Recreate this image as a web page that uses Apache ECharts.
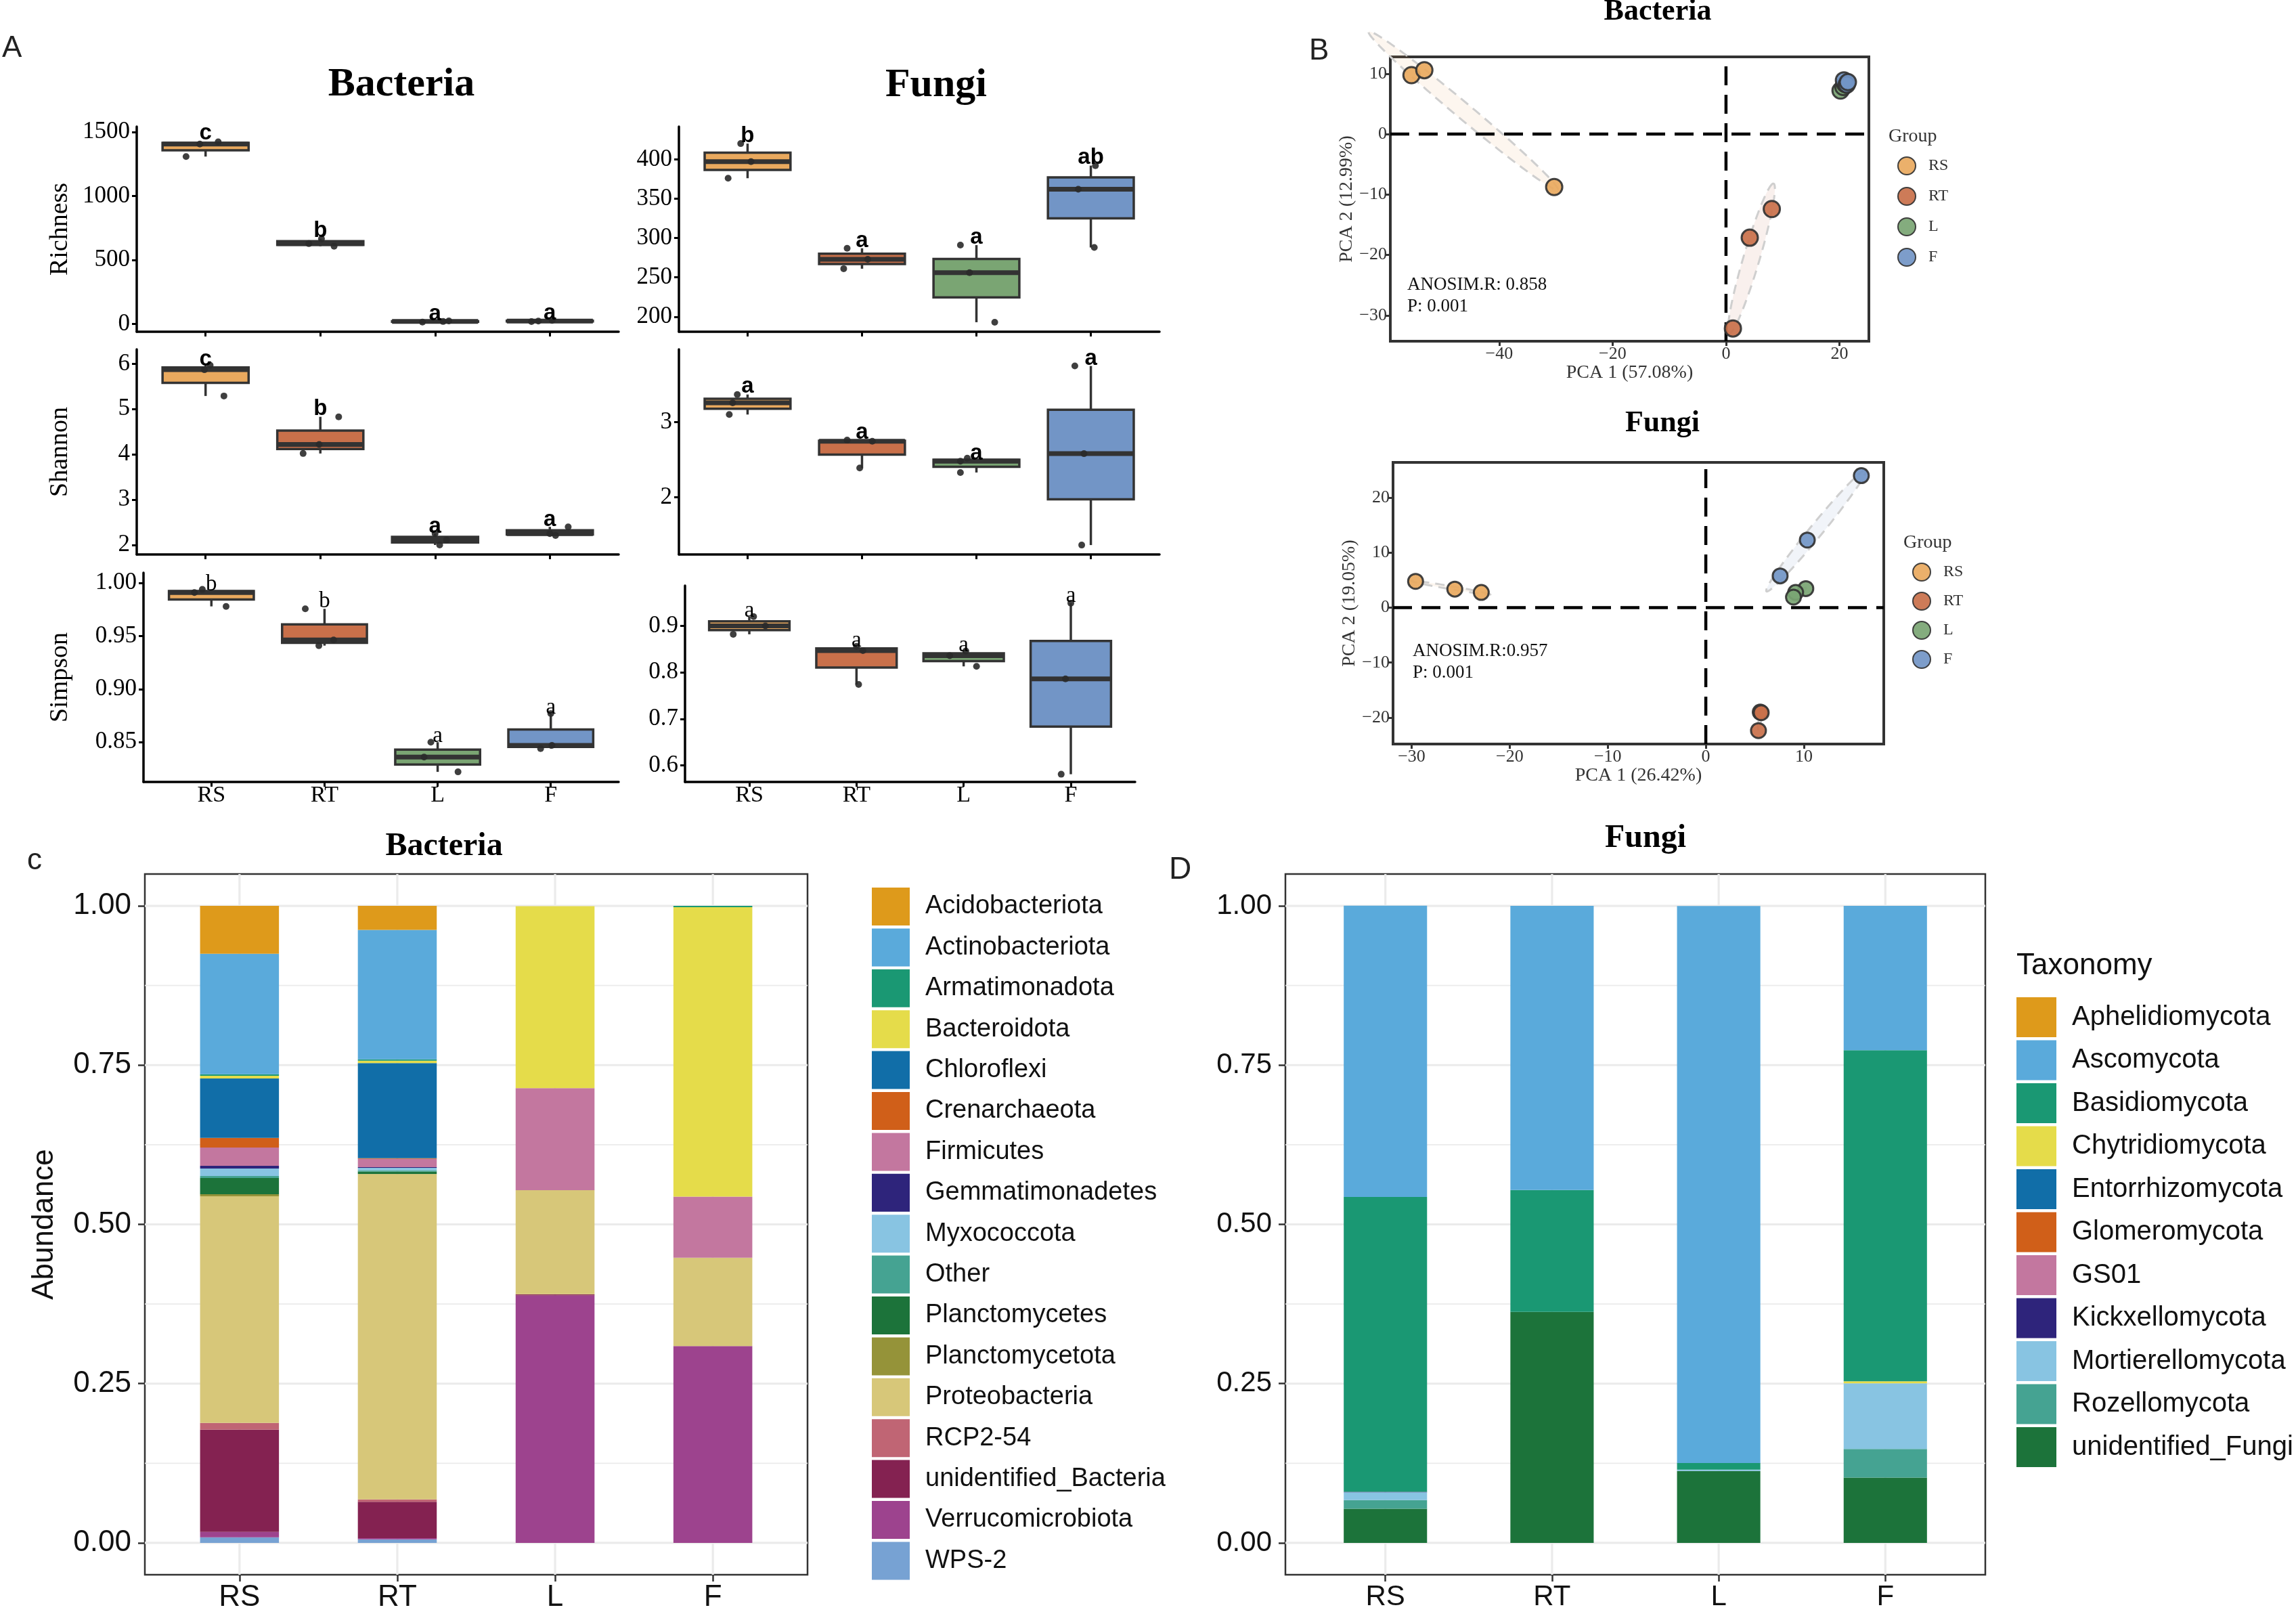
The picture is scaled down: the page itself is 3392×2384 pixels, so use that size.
<!DOCTYPE html>
<html><head><meta charset="utf-8">
<script src="https://cdn.jsdelivr.net/npm/echarts@6/dist/echarts.min.js"></script>
<style>html,body{margin:0;padding:0;background:#fff}#c{width:3392px;height:2384px}</style>
</head><body><div id="c"></div>
<script>
const SERIF = '"Liberation Serif","Times New Roman",serif';
const SANS = '"Liberation Sans",Arial,sans-serif';

const groups = ['RS','RT','L','F'];
const groupColors = ['#E9A95E','#C9704A','#7AA573','#7295C6'];

// ---- Panel A: alpha diversity (3 replicates per group) ----
const bacRichness = [[1307,1405,1422],[607,627,664],[14,19,24],[18,22,28]];
const bacShannon  = [[5.29,5.87,5.97],[4.02,4.22,4.83],[2.00,2.11,2.25],[2.21,2.25,2.40]];
const bacSimpson  = [[0.978,0.991,0.994],[0.941,0.9464,0.9757],[0.822,0.836,0.850],[0.844,0.847,0.877]];
const funRichness = [[376,397,420],[261,273,287],[193,256,291],[288,362,392]];
const funShannon  = [[3.10,3.255,3.366],[2.39,2.745,2.76],[2.33,2.48,2.52],[1.366,2.58,3.745]];
const funSimpson  = [[0.882,0.900,0.920],[0.774,0.847,0.856],[0.813,0.836,0.846],[0.581,0.786,0.949]];

// horizontal jitter of the plotted replicate points (category units)
const bacRichnessJitter = [[-0.17,-0.05,0.11],[0.12,-0.10,0.01],[-0.11,0.07,0.12],[-0.16,-0.10,0.02]];
const bacShannonJitter  = [[0.16,-0.01,0.04],[-0.15,-0.01,0.16],[0.04,0.10,0.0],[0.05,0.0,0.16]];
const bacSimpsonJitter  = [[0.13,-0.15,-0.08],[-0.05,0.08,-0.17],[0.18,-0.12,-0.06],[-0.09,0.01,0.0]];
const funRichnessJitter = [[-0.17,0.03,-0.06],[-0.16,0.05,-0.13],[0.16,-0.06,-0.14],[0.03,-0.11,0.04]];
const funShannonJitter  = [[-0.16,-0.13,-0.09],[-0.02,0.09,-0.13],[-0.14,-0.14,-0.08],[-0.08,-0.06,-0.14]];
const funSimpsonJitter  = [[-0.15,0.15,0.04],[0.02,0.06,0.0],[0.12,-0.13,0.02],[-0.09,-0.05,0.0]];

// significance letters and the value at which they sit
const bacRichnessLetters = ['c','b','a','a'];   const bacRichnessLetterY = [1488,729,78,82];
const bacShannonLetters  = ['c','b','a','a'];   const bacShannonLetterY  = [6.09,5.0,2.40,2.56];
const bacSimpsonLetters  = ['b','b','a','a'];   const bacSimpsonLetterY  = [0.9985,0.983,0.856,0.8826];
const funRichnessLetters = ['b','a','a','ab'];  const funRichnessLetterY = [430,296,301,402];
const funShannonLetters  = ['a','a','a','a'];   const funShannonLetterY  = [3.47,2.86,2.586,3.84];
const funSimpsonLetters  = ['a','a','a','a'];   const funSimpsonLetterY  = [0.933,0.868,0.858,0.964];

const bacRichnessTicks = [0,500,1000,1500];
const bacShannonTicks  = [2,3,4,5,6];
const bacSimpsonTicks  = [0.85,0.90,0.95,1.00];
const funRichnessTicks = [200,250,300,350,400];
const funShannonTicks  = [2,3];
const funSimpsonTicks  = [0.6,0.7,0.8,0.9];

// ---- Panel B: PCA scores ----
const bacPcaRS = [[-55.47,9.75],[-53.2,10.58],[-30.3,-8.76]];
const bacPcaRT = [[8.08,-12.4],[4.19,-17.14],[1.22,-32.16]];
const bacPcaL  = [[20.2,7.2],[20.7,7.8],[21.0,8.3]];
const bacPcaF  = [[20.8,8.9],[21.3,8.2],[21.5,8.6]];
const funPcaRS = [[-29.6,4.76],[-25.6,3.35],[-22.9,2.74]];
const funPcaRT = [[5.55,-19.0],[5.65,-19.1],[5.37,-22.36]];
const funPcaL  = [[10.2,3.44],[9.16,2.74],[8.94,1.89]];
const funPcaF  = [[15.86,23.96],[10.35,12.26],[7.58,5.75]];
const bacPcaXTicks = [-40,-20,0,20];
const bacPcaYTicks = [-30,-20,-10,0,10];
const funPcaXTicks = [-30,-20,-10,0,10];
const funPcaYTicks = [-20,-10,0,10,20];

// ---- Panel C/D: relative abundance ----
const bacTaxa = ['Acidobacteriota','Actinobacteriota','Armatimonadota','Bacteroidota','Chloroflexi','Crenarchaeota','Firmicutes','Gemmatimonadetes','Myxococcota','Other','Planctomycetes','Planctomycetota','Proteobacteria','RCP2-54','unidentified_Bacteria','Verrucomicrobiota','WPS-2'];
const bacRS = [0.0753,0.1891,0.0025,0.0042,0.0931,0.0153,0.0287,0.0042,0.0117,0.0032,0.0255,0.0032,0.3558,0.0106,0.1604,0.0085,0.0088];
const bacRT = [0.0376,0.2034,0.0022,0.0035,0.1494,0.001,0.0131,0.001,0.004,0.002,0.0035,0.0005,0.5105,0.0039,0.057,0.0018,0.0056];
const bacL  = [0,0,0,0.2858,0,0,0.1602,0,0,0,0,0,0.1633,0,0.002,0.3883,0];
const bacF  = [0,0,0.002,0.4544,0,0,0.096,0,0,0,0,0,0.1386,0,0,0.309,0];
const funTaxa = ['Aphelidiomycota','Ascomycota','Basidiomycota','Chytridiomycota','Entorrhizomycota','Glomeromycota','GS01','Kickxellomycota','Mortierellomycota','Rozellomycota','unidentified_Fungi'];
const funRS = [0,0.4572,0.4627,0,0,0,0,0.001,0.012,0.0137,0.0536];
const funRT = [0,0.446,0.1913,0,0,0,0,0,0,0,0.3627];
const funL  = [0,0.8743,0.0104,0,0,0,0,0,0.002,0,0.113];
const funF  = [0,0.2266,0.5196,0.0032,0,0,0,0,0.1033,0.0448,0.1025];
const abundTicks = [0,0.25,0.5,0.75,1];
const abundMinor = [0.125,0.375,0.625,0.875];

const taxaPalette = ['#DE9A1B','#5AAADB','#1A9873','#E5DC4A','#116EA8','#D05F19','#C3779F','#2E247B','#88C4E2','#45A392','#1C733A','#959339','#D7C779','#C06574','#842251','#9D438E','#77A2D3'];

// ---------- helpers ----------
function q7(s, p){ const h=(s.length-1)*p, lo=Math.floor(h), hi=Math.ceil(h); return s[lo]+(h-lo)*(s[hi]-s[lo]); }
function boxStats(vals){
  const s = vals.slice().sort((a,b)=>a-b);
  const q1=q7(s,0.25), q2=q7(s,0.5), q3=q7(s,0.75), iqr=q3-q1;
  const lo = Math.min(...s.filter(v=>v>=q1-1.5*iqr));
  const hi = Math.max(...s.filter(v=>v<=q3+1.5*iqr));
  return [lo,q1,q2,q3,hi];
}
function ellipse(pts, k, n){
  const m=pts.length;
  const mx=pts.reduce((a,p)=>a+p[0],0)/m, my=pts.reduce((a,p)=>a+p[1],0)/m;
  let sxx=0,syy=0,sxy=0;
  pts.forEach(p=>{sxx+=(p[0]-mx)**2; syy+=(p[1]-my)**2; sxy+=(p[0]-mx)*(p[1]-my);});
  sxx/=(m-1); syy/=(m-1); sxy/=(m-1);
  const T=sxx+syy, D=sxx*syy-sxy*sxy, disc=Math.sqrt(Math.max(T*T/4-D,0));
  const l1=T/2+disc, l2=Math.max(T/2-disc, l1*0.004);
  const th=0.5*Math.atan2(2*sxy, sxx-syy);
  const a=k*Math.sqrt(l1), b=k*Math.sqrt(l2), out=[];
  for(let i=0;i<n;i++){ const t=2*Math.PI*i/n;
    out.push([mx+a*Math.cos(t)*Math.cos(th)-b*Math.sin(t)*Math.sin(th), my+a*Math.cos(t)*Math.sin(th)+b*Math.sin(t)*Math.cos(th)]); }
  return out;
}
function hexA(hex, a){ const n=parseInt(hex.slice(1),16); return 'rgba('+(n>>16)+','+((n>>8)&255)+','+(n&255)+','+a+')'; }

const option = {animation:false, backgroundColor:'#fff', grid:[], xAxis:[], yAxis:[], series:[], legend:[], graphic:[]};

// ---------- Panel A ----------
const boxPanels = [
  {vals:bacRichness, jit:bacRichnessJitter, let:bacRichnessLetters, ly:bacRichnessLetterY, ticks:bacRichnessTicks, dec:0, name:'Richness', gap:94, pos:{left:202,top:187,width:712,height:303}, ext:[-61,1541], showX:false, lf:SANS, lw:'bold'},
  {vals:bacShannon, jit:bacShannonJitter, let:bacShannonLetters, ly:bacShannonLetterY, ticks:bacShannonTicks, dec:0, name:'Shannon', gap:94, pos:{left:202,top:516,width:712,height:303}, ext:[1.79,6.32], showX:false, lf:SANS, lw:'bold'},
  {vals:bacSimpson, jit:bacSimpsonJitter, let:bacSimpsonLetters, ly:bacSimpsonLetterY, ticks:bacSimpsonTicks, dec:2, name:'Simpson', gap:104, pos:{left:212,top:846,width:702,height:309}, ext:[0.8125,1.0097], showX:true, lf:SERIF, lw:'normal'},
  {vals:funRichness, jit:funRichnessJitter, let:funRichnessLetters, ly:funRichnessLetterY, ticks:funRichnessTicks, dec:0, name:'', gap:90, pos:{left:1003,top:187,width:710,height:303}, ext:[180.9,441.6], showX:false, lf:SANS, lw:'bold'},
  {vals:funShannon, jit:funShannonJitter, let:funShannonLetters, ly:funShannonLetterY, ticks:funShannonTicks, dec:0, name:'', gap:90, pos:{left:1003,top:516,width:710,height:303}, ext:[1.241,3.966], showX:false, lf:SANS, lw:'bold'},
  {vals:funSimpson, jit:funSimpsonJitter, let:funSimpsonLetters, ly:funSimpsonLetterY, ticks:funSimpsonTicks, dec:1, name:'', gap:90, pos:{left:1012,top:865,width:665,height:290}, ext:[0.5644,0.9867], showX:true, lf:SERIF, lw:'normal'}
];
const catVals = [1,2,3,4];
boxPanels.forEach((p, gi) => {
  option.grid.push(Object.assign({outerBoundsMode:'none', containLabel:false, show:false}, p.pos));
  option.xAxis.push({gridIndex:gi, type:'value', min:0.4, max:4.6,
    axisLine:{show:true,onZero:false,lineStyle:{color:'#000',width:3.5}},
    axisTick:{show:true,customValues:catVals,length:7,lineStyle:{color:'#000',width:3}},
    axisLabel:{show:p.showX,customValues:catVals,formatter:v=>groups[Math.round(v)-1],fontFamily:SERIF,fontSize:34,color:'#000',margin:3},
    splitLine:{show:false}});
  option.yAxis.push({gridIndex:gi, type:'value', min:p.ext[0], max:p.ext[1],
    name:p.name, nameLocation:'middle', nameGap:p.gap, nameRotate:90,
    nameTextStyle:{fontFamily:SERIF,fontSize:38,color:'#000'},
    axisLine:{show:true,onZero:false,lineStyle:{color:'#000',width:3.5}},
    axisTick:{show:true,customValues:p.ticks,length:7,lineStyle:{color:'#000',width:3}},
    axisLabel:{customValues:p.ticks,formatter:v=>Number(v).toFixed(p.dec),fontFamily:SERIF,fontSize:35,color:'#000',margin:10},
    splitLine:{show:false}});
  option.series.push({type:'custom', xAxisIndex:gi, yAxisIndex:gi, silent:true, z:2,
    data:p.vals.map((v,i)=>[i+1].concat(boxStats(v))), encode:{x:0,y:[1,2,3,4,5]},
    renderItem:(params, api)=>{
      const x=api.value(0), i=params.dataIndex;
      const pl=api.coord([x,api.value(1)]), p1=api.coord([x,api.value(2)]), pm=api.coord([x,api.value(3)]), p3=api.coord([x,api.value(4)]), ph=api.coord([x,api.value(5)]);
      const hw=api.size([0.75,0])[0]/2;
      const ls={stroke:'#333',lineWidth:3.5};
      return {type:'group', children:[
        {type:'line', shape:{x1:p3[0],y1:p3[1],x2:ph[0],y2:ph[1]}, style:ls},
        {type:'line', shape:{x1:p1[0],y1:p1[1],x2:pl[0],y2:pl[1]}, style:ls},
        {type:'rect', shape:{x:pm[0]-hw,y:p3[1],width:2*hw,height:p1[1]-p3[1]}, style:{fill:groupColors[i],stroke:'#333',lineWidth:3.5}},
        {type:'line', shape:{x1:pm[0]-hw,y1:pm[1],x2:pm[0]+hw,y2:pm[1]}, style:{stroke:'#333',lineWidth:7}}
      ]};
    }});
  const pts=[];
  p.vals.forEach((arr,i)=>arr.forEach((v,j)=>pts.push([i+1+p.jit[i][j], v])));
  option.series.push({type:'scatter', xAxisIndex:gi, yAxisIndex:gi, silent:true, z:3, data:pts, symbolSize:10, itemStyle:{color:'#2a2a2a',opacity:0.9}});
  option.series.push({type:'custom', xAxisIndex:gi, yAxisIndex:gi, silent:true, z:4,
    data:p.let.map((l,i)=>[i+1,p.ly[i]]),
    renderItem:(params, api)=>{
      const c=api.coord([api.value(0),api.value(1)]);
      return {type:'text', x:c[0], y:c[1], style:{text:p.let[params.dataIndex], fontFamily:p.lf, fontWeight:p.lw, fontSize:33, fill:'#000', align:'center', verticalAlign:'middle'}};
    }});
});

// ---------- Panel B ----------
const pcaPanels = [
  {groupsPts:[bacPcaRS,bacPcaRT,bacPcaL,bacPcaF], pos:{left:2054,top:84,width:707,height:420}, xe:[-59.2,25.2], ye:[-34.27,12.78], xt:bacPcaXTicks, yt:bacPcaYTicks, xn:'PCA 1 (57.08%)', yn:'PCA 2 (12.99%)', sym:24},
  {groupsPts:[funPcaRS,funPcaRT,funPcaL,funPcaF], pos:{left:2058,top:683,width:725,height:416}, xe:[-31.9,18.15], ye:[-24.8,26.37], xt:funPcaXTicks, yt:funPcaYTicks, xn:'PCA 1 (26.42%)', yn:'PCA 2 (19.05%)', sym:22}
];
const minus = v => String(v).replace('-', '\u2212');
pcaPanels.forEach((p, k) => {
  const gi = 6 + k;
  option.grid.push(Object.assign({outerBoundsMode:'none', containLabel:false, show:true, borderColor:'#333', borderWidth:4, backgroundColor:'transparent'}, p.pos));
  option.xAxis.push({gridIndex:gi, type:'value', min:p.xe[0], max:p.xe[1], name:p.xn, nameLocation:'middle', nameGap:30,
    nameTextStyle:{fontFamily:SERIF,fontSize:28,color:'#333'},
    axisLine:{show:false,onZero:false}, axisTick:{show:true,customValues:p.xt,length:7,lineStyle:{color:'#333',width:3}},
    axisLabel:{customValues:p.xt,formatter:minus,fontFamily:SERIF,fontSize:26,color:'#333',margin:6}, splitLine:{show:false}});
  option.yAxis.push({gridIndex:gi, type:'value', min:p.ye[0], max:p.ye[1], name:p.yn, nameLocation:'middle', nameGap:50, nameRotate:90,
    nameTextStyle:{fontFamily:SERIF,fontSize:28,color:'#333'},
    axisLine:{show:false,onZero:false}, axisTick:{show:true,customValues:p.yt,length:7,lineStyle:{color:'#333',width:3}},
    axisLabel:{customValues:p.yt,formatter:minus,fontFamily:SERIF,fontSize:26,color:'#333',margin:5}, splitLine:{show:false}});
  option.series.push({type:'custom', xAxisIndex:gi, yAxisIndex:gi, silent:true, z:1, clip:false,
    data:[[0],[1],[2],[3]],
    renderItem:(params, api)=>{
      const i=params.dataIndex;
      const poly=ellipse(p.groupsPts[i],1.2,72).map(q=>api.coord(q));
      return {type:'polygon', shape:{points:poly}, style:{fill:hexA(groupColors[i],0.1), stroke:'#cfcfcf', lineWidth:3, lineDash:[14,9]}};
    }});
  option.series.push({type:'custom', xAxisIndex:gi, yAxisIndex:gi, silent:true, z:1.5,
    data:[[0,0]],
    renderItem:(params, api)=>{
      const a=api.coord([p.xe[0],0]), b=api.coord([p.xe[1],0]), c=api.coord([0,p.ye[0]]), d=api.coord([0,p.ye[1]]);
      const st={stroke:'#000',lineWidth:4.5,lineDash:[28,14]};
      return {type:'group', children:[
        {type:'line', shape:{x1:a[0],y1:a[1],x2:b[0],y2:b[1]}, style:st},
        {type:'line', shape:{x1:c[0],y1:c[1],x2:d[0],y2:d[1]}, style:st}]};
    }});
  p.groupsPts.forEach((pts,i)=>{
    option.series.push({type:'scatter', name:groups[i], xAxisIndex:gi, yAxisIndex:gi, silent:true, z:3, data:pts, symbolSize:p.sym,
      itemStyle:{color:groupColors[i], borderColor:'#333', borderWidth:3, opacity:0.92}});
  });
});
option.legend.push({data:groups, left:2803, top:231, orient:'vertical', padding:0, itemWidth:26, itemHeight:26, itemGap:17, icon:'circle', selectedMode:false,
  textStyle:{fontFamily:SERIF,fontSize:24,color:'#333',padding:[0,0,0,14]}});
option.legend.push({data:groups, left:2825, top:831, orient:'vertical', padding:0, itemWidth:26, itemHeight:26, itemGap:15, icon:'circle', selectedMode:false,
  textStyle:{fontFamily:SERIF,fontSize:24,color:'#333',padding:[0,0,0,14]}});

// ---------- Panels C, D ----------
const barPanels = [
  {taxa:bacTaxa, samples:[bacRS,bacRT,bacL,bacF], pos:{left:214,top:1291,width:979,height:1035}, yName:'Abundance', fs:44},
  {taxa:funTaxa, samples:[funRS,funRT,funL,funF], pos:{left:1899,top:1291,width:1034,height:1035}, yName:'', fs:42}
];
barPanels.forEach((p,k)=>{
  const gi = 8 + k;
  option.grid.push(Object.assign({outerBoundsMode:'none', containLabel:false, show:true, borderColor:'#333', borderWidth:2.5, backgroundColor:'transparent'}, p.pos));
  option.xAxis.push({gridIndex:gi, type:'value', min:0.4, max:4.6,
    axisLine:{show:false,onZero:false}, axisTick:{show:true,customValues:catVals,length:10,lineStyle:{color:'#333',width:2.5}},
    axisLabel:{customValues:catVals,formatter:v=>groups[Math.round(v)-1],fontFamily:SANS,fontSize:p.fs,color:'#111',margin:12}, splitLine:{show:false}});
  option.yAxis.push({gridIndex:gi, type:'value', min:-0.05, max:1.05, name:p.yName, nameLocation:'middle', nameGap:126, nameRotate:90,
    nameTextStyle:{fontFamily:SANS,fontSize:44,color:'#111'},
    axisLine:{show:false,onZero:false}, axisTick:{show:true,customValues:abundTicks,length:10,lineStyle:{color:'#333',width:2.5}},
    axisLabel:{customValues:abundTicks,formatter:v=>Number(v).toFixed(2),fontFamily:SANS,fontSize:p.fs,color:'#111',margin:20}, splitLine:{show:false}});
  option.series.push({type:'custom', xAxisIndex:gi, yAxisIndex:gi, silent:true, z:1, data:[[1,0.5]],
    renderItem:(params, api)=>{
      const ch=[];
      const h=(v,w)=>{const a=api.coord([0.4,v]), b=api.coord([4.6,v]); ch.push({type:'line',shape:{x1:a[0],y1:a[1],x2:b[0],y2:b[1]},style:{stroke:'#ebebeb',lineWidth:w}});};
      abundMinor.forEach(v=>h(v,1.6));
      abundTicks.forEach(v=>h(v,3.2));
      catVals.forEach(x=>{const a=api.coord([x,-0.05]), b=api.coord([x,1.05]); ch.push({type:'line',shape:{x1:a[0],y1:a[1],x2:b[0],y2:b[1]},style:{stroke:'#ebebeb',lineWidth:3.2}});});
      return {type:'group', children:ch};
    }});
  // stacked bars (ggplot order: first taxon on top) -> cumulative bottoms from the last taxon
  const base = p.samples.map(()=>0);
  for (let t=p.taxa.length-1; t>=0; t--) {
    const items = p.samples.map((s,i)=>{ const y0=base[i], y1=base[i]+s[t]; base[i]=y1; return [i+1, y0, y1]; });
    option.series.push({type:'custom', name:p.taxa[t], xAxisIndex:gi, yAxisIndex:gi, silent:true, z:2,
      itemStyle:{color:taxaPalette[t]}, data:items, encode:{x:0,y:[1,2]},
      renderItem:(params, api)=>{
        const x=api.value(0), y0=api.value(1), y1=api.value(2);
        if (!(y1>y0)) return null;
        const a=api.coord([x-0.25,y1]), b=api.coord([x+0.25,y0]);
        return {type:'rect', shape:{x:a[0],y:a[1],width:b[0]-a[0],height:b[1]-a[1]}, style:{fill:taxaPalette[t]}};
      }});
  }
});
option.legend.push({data:bacTaxa, left:1288, top:1311, orient:'vertical', padding:0, itemWidth:56, itemHeight:56, itemGap:4.4, icon:'rect', selectedMode:false,
  textStyle:{fontFamily:SANS,fontSize:38,color:'#111',padding:[0,0,0,18]}});
option.legend.push({data:funTaxa, left:2979, top:1473, orient:'vertical', padding:0, itemWidth:59, itemHeight:59, itemGap:4.5, icon:'rect', selectedMode:false,
  textStyle:{fontFamily:SANS,fontSize:40,color:'#111',padding:[0,0,0,18]}});

// ---------- texts ----------
function txt(x,y,text,font,size,weight,align,color){
  return {type:'text', x:x, y:y, silent:true, style:{text:text, fontFamily:font, fontSize:size, fontWeight:weight||'normal', fill:color||'#000', align:align||'center', verticalAlign:'middle'}};
}
option.graphic = [
  txt(3,72,'A',SANS,44,'normal','left','#222'),
  txt(593,125,'Bacteria',SERIF,60,'bold'),
  txt(1383,126,'Fungi',SERIF,60,'bold'),
  txt(1934,76,'B',SANS,44,'normal','left','#222'),
  txt(2449,18,'Bacteria',SERIF,44,'bold'),
  txt(2456,626,'Fungi',SERIF,44,'bold'),
  txt(2790,202,'Group',SERIF,28,'normal','left','#333'),
  txt(2812,802,'Group',SERIF,28,'normal','left','#333'),
  txt(2079,421,'ANOSIM.R: 0.858',SERIF,27,'normal','left','#111'),
  txt(2079,453,'P: 0.001',SERIF,27,'normal','left','#111'),
  txt(2087,962,'ANOSIM.R:0.957',SERIF,27,'normal','left','#111'),
  txt(2087,994,'P: 0.001',SERIF,27,'normal','left','#111'),
  txt(40,1272,'c',SANS,44,'normal','left','#222'),
  txt(656,1251,'Bacteria',SERIF,48,'bold'),
  txt(1727,1285,'D',SANS,46,'normal','left','#222'),
  txt(2431,1239,'Fungi',SERIF,48,'bold'),
  txt(2979,1427,'Taxonomy',SANS,44,'normal','left','#111')
];

const chart = echarts.init(document.getElementById('c'), null, {renderer:'canvas', width:3392, height:2384});
chart.setOption(option);
</script></body></html>
